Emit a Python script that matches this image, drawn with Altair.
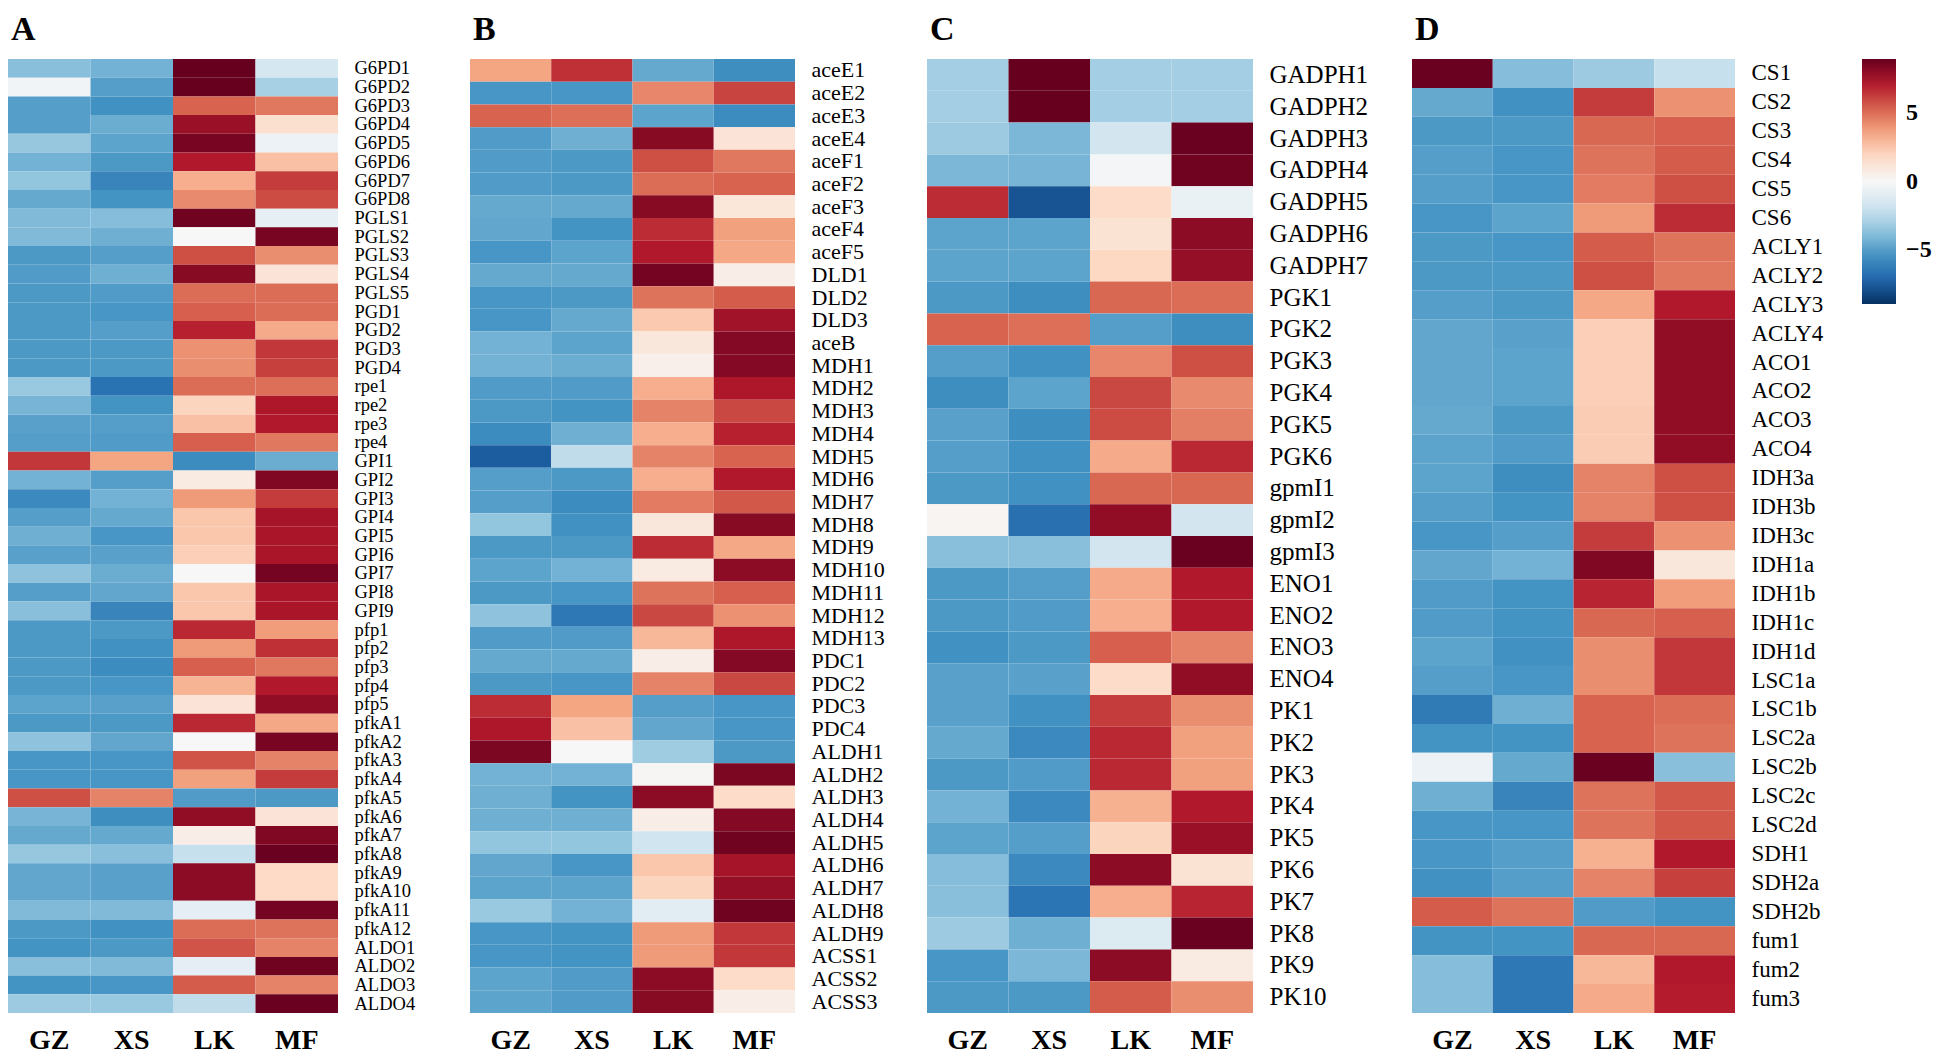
import altair as alt
import pandas as pd

samples = ["GZ", "XS", "LK", "MF"]

# ---------------- Panel A ----------------
genes_a = ["G6PD1", "G6PD2", "G6PD3", "G6PD4", "G6PD5", "G6PD6", "G6PD7", "G6PD8",
           "PGLS1", "PGLS2", "PGLS3", "PGLS4", "PGLS5",
           "PGD1", "PGD2", "PGD3", "PGD4",
           "rpe1", "rpe2", "rpe3", "rpe4",
           "GPI1", "GPI2", "GPI3", "GPI4", "GPI5", "GPI6", "GPI7", "GPI8", "GPI9",
           "pfp1", "pfp2", "pfp3", "pfp4", "pfp5",
           "pfkA1", "pfkA2", "pfkA3", "pfkA4", "pfkA5", "pfkA6", "pfkA7", "pfkA8",
           "pfkA9", "pfkA10", "pfkA11", "pfkA12",
           "ALDO1", "ALDO2", "ALDO3", "ALDO4"]
gz_a = [-3.8, -0.3, -5, -5, -3.5, -4.3, -3.6, -4.6,
        -4, -4, -5.2, -5.1, -5.2,
        -5.2, -5.2, -5.2, -5.2,
        -3.4, -4.2, -4.9, -5,
        6.4, -4.3, -5.8, -5, -4.4, -4.9, -3.7, -5, -3.8,
        -5.2, -5.2, -5.2, -5.2, -4.8,
        -5.2, -3.7, -5.3, -5.3, 5.8, -4.2, -4.6, -3.5, -4.7, -4.7, -4, -5.2,
        -5.4, -3.8, -5.4, -3.3]
xs_a = [-4.3, -5, -5.5, -4.5, -4.8, -5.2, -6, -5.4,
        -3.9, -4.4, -5, -4.4, -5.1,
        -5.3, -5, -5.2, -5.2,
        -6.7, -5.4, -5, -5.1,
        3.6, -5, -4.3, -4.6, -5.3, -4.9, -4.5, -4.7, -6,
        -5.2, -5.5, -5.7, -5.3, -4.9,
        -5.2, -4.7, -5.3, -5.3, 4.5, -5.6, -4.6, -3.8, -4.9, -4.9, -4, -5.5,
        -5.2, -4, -5.3, -3.4]
lk_a = [9, 9, 5.3, 7.8, 8.6, 7.2, 3.3, 4.3,
        8.8, 0, 5.8, 8.2, 5.1,
        5.4, 7, 4.1, 4.2,
        5.1, 2, 2.7, 5.4,
        -5.7, 0.8, 3.9, 2.5, 2.5, 2.2, 0, 2.5, 2.5,
        6.8, 3.9, 5.4, 3.1, 1.2,
        6.8, 0, 5.7, 3.7, -5.1, 8, 0.6, -2.1, 8.1, 8.1, -0.9, 5.1,
        5.7, -0.9, 5.5, -2.3]
mf_a = [-1.6, -3, 4.8, 1.5, -0.5, 2.7, 6.3, 5.9,
        -0.8, 8.6, 4.2, 1.2, 5.1,
        5.1, 3.4, 6.4, 6.2,
        5, 7.3, 7.2, 4.8,
        -4.5, 8.4, 6.3, 7.5, 7.4, 7.4, 8.7, 7.4, 7.4,
        3.8, 6.6, 4.8, 7.2, 8,
        3.5, 8.6, 4.5, 6.3, -5.2, 1.2, 8.4, 8.9, 1.8, 1.8, 8.7, 4.9,
        4.5, 8.8, 4.5, 8.9]

# ---------------- Panel B ----------------
genes_b = ["aceE1", "aceE2", "aceE3", "aceE4",
           "aceF1", "aceF2", "aceF3", "aceF4", "aceF5",
           "DLD1", "DLD2", "DLD3", "aceB",
           "MDH1", "MDH2", "MDH3", "MDH4", "MDH5", "MDH6", "MDH7", "MDH8", "MDH9",
           "MDH10", "MDH11", "MDH12", "MDH13",
           "PDC1", "PDC2", "PDC3", "PDC4",
           "ALDH1", "ALDH2", "ALDH3", "ALDH4", "ALDH5", "ALDH6", "ALDH7", "ALDH8", "ALDH9",
           "ACSS1", "ACSS2", "ACSS3"]
gz_b = [3.6, -5.3, 5.3, -5.1,
        -5.1, -5.1, -4.6, -4.7, -5.3,
        -4.6, -5.3, -5.3, -4.3,
        -4.3, -5.1, -5.2, -5.7, -7.5, -5, -5, -3.6, -5.2, -4.8, -5.2, -3.7, -5.1,
        -4.6, -5.2, 6.7, 7.3,
        8.5, -4.3, -4.4, -4.4, -3.6, -4.7, -4.8, -3.4, -5.3,
        -5.3, -4.8, -4.8]
xs_b = [6.6, -5.3, 5, -4.4,
        -5.2, -5.2, -4.6, -5.4, -4.8,
        -4.6, -5.2, -4.6, -4.8,
        -4.5, -5.1, -5.4, -4.4, -2.3, -5.2, -5.7, -5.5, -5.2, -4.3, -5.3, -6.5, -5.1,
        -4.6, -5.3, 3.6, 2.7,
        0, -4.3, -5.4, -4.4, -3.6, -5.3, -4.8, -4.3, -5.4,
        -5.4, -5.1, -5.1]
lk_b = [-4.6, 4.4, -4.8, 8.2,
        5.8, 5.1, 8.2, 6.7, 7.2,
        8.7, 4.9, 2.4, 1,
        0.5, 3.3, 4.5, 3.3, 4.5, 3.3, 4.7, 1, 6.7, 0.8, 4.9, 6, 3,
        0.6, 4.5, -5, -4.7,
        -3.2, 0.1, 8.1, 0.6, -1.8, 2.5, 2, -1, 3.9,
        3.9, 8.1, 8.2]
mf_b = [-5.6, 6.1, -5.7, 1.2,
        4.8, 5.3, 1.1, 3.7, 3.5,
        0.6, 5.5, 7.6, 8.3,
        8.3, 7.3, 6, 7, 5.3, 7.2, 5.6, 8.2, 3.5, 8.1, 5.4, 4.1, 7.3,
        8.3, 6, -5.3, -5.3,
        -5.2, 8.5, 1.7, 8.3, 8.8, 7.5, 7.9, 8.8, 6.4,
        6.4, 1.7, 0.6]

# ---------------- Panel C ----------------
genes_c = ["GADPH1", "GADPH2", "GADPH3", "GADPH4", "GADPH5", "GADPH6", "GADPH7",
           "PGK1", "PGK2", "PGK3", "PGK4", "PGK5", "PGK6",
           "gpmI1", "gpmI2", "gpmI3",
           "ENO1", "ENO2", "ENO3", "ENO4",
           "PK1", "PK2", "PK3", "PK4", "PK5", "PK6", "PK7", "PK8", "PK9", "PK10"]
gz_c = [-3.1, -3.1, -3.3, -4.1, 6.7, -4.8, -4.8,
        -5.2, 5.3, -5, -5.6, -4.9, -5,
        -5.2, 0.2, -3.8,
        -5.2, -5.2, -5.5, -4.9,
        -4.9, -4.6, -5.2, -4.3, -4.8, -3.9, -3.8, -3.3, -5.3, -5.2]
xs_c = [9, 9, -4.1, -4.2, -7.8, -4.8, -4.8,
        -5.6, 5, -5.5, -4.8, -5.6, -5.5,
        -5.5, -6.8, -3.8,
        -5, -5.1, -5.2, -4.9,
        -5.5, -5.8, -5.1, -5.8, -5, -5.8, -6.6, -4.4, -4.1, -5.2]
lk_c = [-3.1, -3.1, -1.7, -0.2, 1.7, 1.3, 1.9,
        5.2, -5, 4.4, 6, 5.9, 3.4,
        5.2, 8, -1.7,
        3.4, 3.3, 5.4, 1.7,
        6.3, 6.8, 6.8, 3.2, 2, 8.1, 3.3, -1.3, 8.1, 5.5]
mf_c = [-3.1, -3.1, 8.9, 8.8, -0.6, 8.1, 7.9,
        5.1, -5.6, 5.8, 4.3, 4.6, 6.8,
        5.2, -1.7, 8.9,
        7.2, 7.2, 4.5, 8,
        4.2, 3.7, 3.7, 7.2, 7.8, 1.3, 6.9, 8.9, 0.8, 4.2]

# ---------------- Panel D ----------------
genes_d = ["CS1", "CS2", "CS3", "CS4", "CS5", "CS6",
           "ACLY1", "ACLY2", "ACLY3", "ACLY4",
           "ACO1", "ACO2", "ACO3", "ACO4",
           "IDH3a", "IDH3b", "IDH3c",
           "IDH1a", "IDH1b", "IDH1c", "IDH1d",
           "LSC1a", "LSC1b", "LSC2a", "LSC2b", "LSC2c", "LSC2d",
           "SDH1", "SDH2a", "SDH2b",
           "fum1", "fum2", "fum3"]
gz_d = [8.9, -4.6, -5.2, -5, -5, -5.3,
        -5.2, -5.2, -5, -4.7,
        -4.7, -4.7, -4.6, -4.8,
        -4.8, -5, -5.3,
        -4.7, -5.1, -5.1, -4.8,
        -5, -6.4, -5.4, -0.5, -4.4, -5.3,
        -5.3, -5.5, 5.5,
        -5.4, -3.9, -3.9]
xs_d = [-3.9, -5.5, -5.2, -5.3, -5.3, -4.8,
        -5.3, -5.2, -5.2, -4.9,
        -4.8, -4.8, -5.2, -5.1,
        -5.6, -5.4, -5,
        -4.3, -5.4, -5.4, -5.5,
        -5.3, -4.4, -5.4, -4.6, -6, -5.3,
        -5, -5, 4.9,
        -5.4, -6.5, -6.5]
lk_d = [-3.3, 6.3, 5.2, 4.9, 4.7, 3.9,
        5.5, 5.8, 3.5, 2.2,
        2.2, 2.2, 2.3, 2.3,
        4.5, 4.5, 6.3,
        8.4, 6.9, 5.2, 4.2,
        4.2, 5.3, 5.3, 8.9, 4.9, 4.9,
        3.2, 4.5, -5.1,
        5.2, 3, 3.4]
mf_d = [-2.1, 4.1, 5.4, 5.5, 5.8, 6.7,
        4.9, 4.8, 7.2, 8,
        8, 8, 8, 8,
        5.8, 5.8, 4.1,
        1, 3.8, 5.4, 6.4,
        6.4, 5.1, 4.9, -3.8, 5.6, 5.6,
        7.2, 6.2, -5.4,
        5.2, 7.2, 7.1]

# colour scale (RdBu, symmetric around 0)
color_stops = [-9, -7.2, -5.4, -3.6, -1.8, 0, 1.8, 3.6, 5.4, 7.2, 9]
color_range = ["#053061", "#2166ac", "#4393c3", "#92c5de", "#d1e5f0", "#f7f7f7",
               "#fddbc7", "#f4a582", "#d6604d", "#b2182b", "#67001f"]
legend_values = [5, 0, -5]

FONT = "Liberation Serif"
PLOT_H = 954


def long_table(genes, cols):
    rows = []
    for s, vals in zip(samples, cols):
        for g, v in zip(genes, vals):
            rows.append({"gene": g, "sample": s, "value": v})
    return pd.DataFrame(rows)


color_enc = alt.Color(
    "value:Q",
    scale=alt.Scale(domain=color_stops, range=color_range, interpolate="rgb"),
    legend=alt.Legend(
        orient="none", legendX=1854, legendY=0, direction="vertical",
        gradientLength=245, gradientThickness=34, values=legend_values,
        title=None, labelFont=FONT, labelFontSize=24, labelFontWeight="bold",
        labelColor="black", labelOffset=10, gradientStrokeWidth=0,
    ),
)


def panel(letter, genes, cols, width, label_size):
    df = long_table(genes, cols)
    return alt.Chart(df).mark_rect().encode(
        x=alt.X("sample:N", sort=samples, title=None,
                axis=alt.Axis(orient="bottom", labelAngle=0, ticks=False, domain=False,
                              labelFont=FONT, labelFontSize=28, labelFontWeight="bold",
                              labelColor="black", labelPadding=13)),
        y=alt.Y("gene:N", sort=genes, title=None,
                axis=alt.Axis(orient="right", ticks=False, domain=False,
                              labelFont=FONT, labelFontSize=label_size,
                              labelColor="black", labelPadding=16, labelOverlap=False,
                              labelLimit=300)),
        color=color_enc,
    ).properties(
        width=width, height=PLOT_H,
        title=alt.TitleParams(letter, anchor="start", font=FONT, fontSize=34,
                              fontWeight="bold", color="black", offset=12, dx=3),
    )


def spacer(w):
    return alt.Chart(pd.DataFrame({"v": [0]})).mark_text(text="").encode(
        x=alt.value(0), y=alt.value(0)
    ).properties(width=w, height=PLOT_H)


pA = panel("A", genes_a, [gz_a, xs_a, lk_a, mf_a], 330, 18.5)
pB = panel("B", genes_b, [gz_b, xs_b, lk_b, mf_b], 325, 22)
pC = panel("C", genes_c, [gz_c, xs_c, lk_c, mf_c], 326, 25)
pD = panel("D", genes_d, [gz_d, xs_d, lk_d, mf_d], 323, 23)

chart = alt.hconcat(
    pA, spacer(132), pB, spacer(132), pC, spacer(159), pD,
    spacing=0, bounds="flush",
).properties(
    padding={"left": 0, "top": 4, "right": 0, "bottom": 0}
).configure_view(strokeWidth=0)

chart.save("out.html", embed_options={"renderer": "svg", "actions": False})
